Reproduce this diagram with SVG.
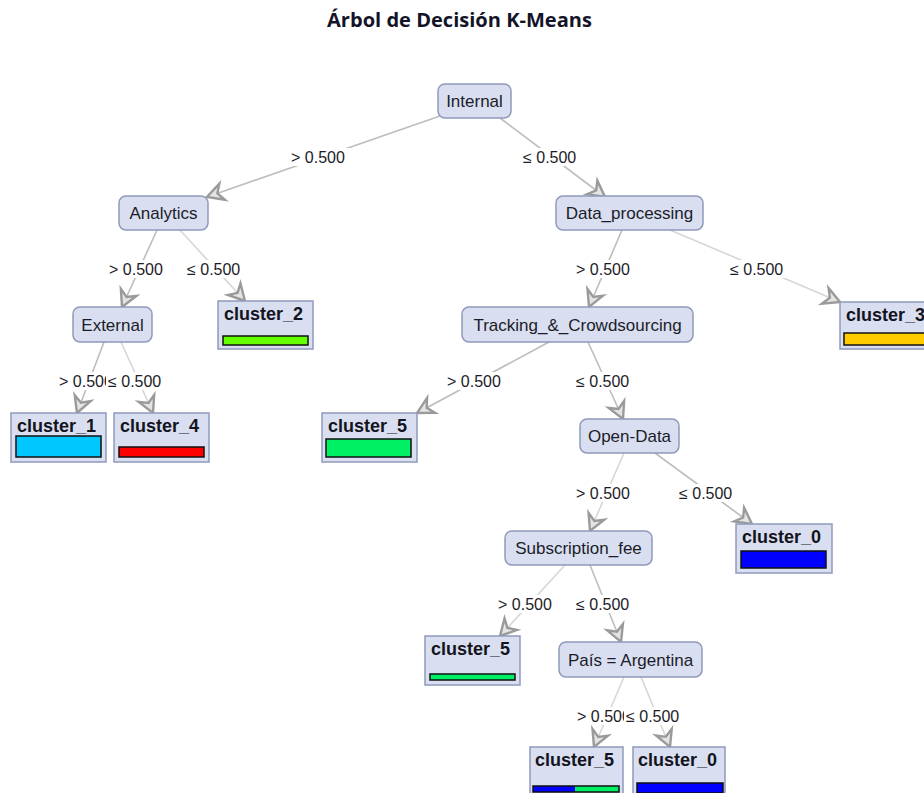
<svg xmlns="http://www.w3.org/2000/svg" width="924" height="793" viewBox="0 0 924 793">
<style>
.bg{fill:#ffffff}
.title{font-family:"Open Sans","Liberation Sans",sans-serif;font-weight:700;font-size:19px;fill:#141428}
.inner rect{fill:#d9dff1;stroke:#8f9aba;stroke-width:1.5}
.inner text{font-family:"Liberation Sans",Arial,sans-serif;font-size:17px;fill:#1c1c28;text-anchor:middle}
.leaf rect.box{fill:#d9dff1;stroke:#8f9aba;stroke-width:1.5}
.leaf text{font-family:"Liberation Sans",Arial,sans-serif;font-weight:700;font-size:18px;fill:#141420}
.bar{stroke:#111;stroke-width:1.5}
.edge{stroke:#bdbdbd;stroke-width:1.6;fill:none;marker-end:url(#arr)}
.edge.lt{stroke:#d6d6d6}
.lbg{fill:#ffffff}
.lbl{font-family:"Liberation Sans",Arial,sans-serif;font-size:16px;fill:#1c1c28}
</style>
<defs>
<marker id="arr" markerUnits="userSpaceOnUse" markerWidth="24" markerHeight="24" refX="0" refY="0" viewBox="-18 -12 20 24" orient="auto">
<path d="M-16,-8.5 L0,0 L-16,8.5 L-11,0 Z" fill="#e4e4e4" stroke="#9a9a9a" stroke-width="2.4" stroke-linejoin="miter"/>
</marker>
</defs>
<rect class="bg" x="0" y="0" width="924" height="793"/>
<text class="title" x="459.5" y="27" text-anchor="middle" textLength="265" lengthAdjust="spacingAndGlyphs">Árbol de Decisión K-Means</text>

<g id="connectors">
<line class="edge" x1="440" y1="116" x2="207" y2="197"/>
<line class="edge" x1="500" y1="118" x2="605" y2="197"/>
<line class="edge" x1="157" y1="230" x2="122" y2="307"/>
<line class="edge lt" x1="180" y1="230" x2="245" y2="301"/>
<line class="edge" x1="104" y1="342" x2="77" y2="413"/>
<line class="edge lt" x1="121" y1="342" x2="153" y2="413"/>
<line class="edge" x1="622" y1="230" x2="589" y2="307"/>
<line class="edge lt" x1="670" y1="230" x2="840" y2="302"/>
<line class="edge" x1="549" y1="342" x2="417" y2="413"/>
<line class="edge" x1="588" y1="342" x2="623" y2="419"/>
<line class="edge lt" x1="624" y1="453" x2="590" y2="531"/>
<line class="edge" x1="655" y1="453" x2="752" y2="524"/>
<line class="edge lt" x1="565" y1="565" x2="500" y2="636"/>
<line class="edge" x1="590" y1="565" x2="621" y2="642"/>
<line class="edge lt" x1="624" y1="677" x2="594" y2="747"/>
<line class="edge lt" x1="641" y1="677" x2="670" y2="747"/>

<rect class="lbg" x="289" y="148" width="61" height="18"/>
<text class="lbl" x="291" y="163">&gt; 0.500</text>
<rect class="lbg" x="521" y="148" width="62" height="18"/>
<text class="lbl" x="523" y="163">≤ 0.500</text>

<rect class="lbg" x="107" y="260" width="60" height="18"/>
<text class="lbl" x="109" y="275">&gt; 0.500</text>
<rect class="lbg" x="185" y="260" width="62" height="18"/>
<text class="lbl" x="187" y="275">≤ 0.500</text>

<rect class="lbg" x="57" y="372" width="60" height="18"/>
<text class="lbl" x="59" y="387">&gt; 0.500</text>
<rect class="lbg" x="106" y="372" width="62" height="18"/>
<text class="lbl" x="108" y="387">≤ 0.500</text>

<rect class="lbg" x="574" y="260" width="60" height="18"/>
<text class="lbl" x="576" y="275">&gt; 0.500</text>
<rect class="lbg" x="728" y="260" width="63" height="18"/>
<text class="lbl" x="730" y="275">≤ 0.500</text>

<rect class="lbg" x="445" y="372" width="60" height="18"/>
<text class="lbl" x="447" y="387">&gt; 0.500</text>
<rect class="lbg" x="574" y="372" width="62" height="18"/>
<text class="lbl" x="576" y="387">≤ 0.500</text>

<rect class="lbg" x="574" y="484" width="60" height="18"/>
<text class="lbl" x="576" y="499">&gt; 0.500</text>
<rect class="lbg" x="677" y="484" width="63" height="18"/>
<text class="lbl" x="679" y="499">≤ 0.500</text>

<rect class="lbg" x="496" y="595" width="60" height="18"/>
<text class="lbl" x="498" y="610">&gt; 0.500</text>
<rect class="lbg" x="574" y="595" width="62" height="18"/>
<text class="lbl" x="576" y="610">≤ 0.500</text>

<rect class="lbg" x="575" y="707" width="60" height="18"/>
<text class="lbl" x="577" y="722">&gt; 0.500</text>
<rect class="lbg" x="624" y="707" width="63" height="18"/>
<text class="lbl" x="626" y="722">≤ 0.500</text>
</g>

<g id="node-internal" class="inner"><rect x="438" y="84" width="73" height="34" rx="7"/><text x="474.5" y="107">Internal</text></g>
<g id="node-analytics" class="inner"><rect x="119" y="196" width="89" height="34" rx="7"/><text x="163.5" y="219">Analytics</text></g>
<g id="node-external" class="inner"><rect x="73" y="307" width="79" height="35" rx="7"/><text x="112.5" y="331">External</text></g>
<g id="node-data-processing" class="inner"><rect x="556" y="196" width="147" height="34" rx="7"/><text x="629.5" y="219">Data_processing</text></g>
<g id="node-tracking" class="inner"><rect x="462" y="307" width="231" height="35" rx="7"/><text x="577.5" y="331">Tracking_&amp;_Crowdsourcing</text></g>
<g id="node-open-data" class="inner"><rect x="580" y="419" width="99" height="34" rx="7"/><text x="629.5" y="442">Open-Data</text></g>
<g id="node-subscription" class="inner"><rect x="505" y="531" width="147" height="34" rx="7"/><text x="578.5" y="554">Subscription_fee</text></g>
<g id="node-pais" class="inner"><rect x="559" y="642" width="143" height="35" rx="7"/><text x="630.5" y="666">País = Argentina</text></g>

<g id="leaf-cluster2" class="leaf"><rect class="box" x="218" y="301" width="95" height="48"/><text x="224" y="320">cluster_2</text><rect class="bar" x="223" y="336" width="85" height="9" fill="#66ff00"/></g>
<g id="leaf-cluster1" class="leaf"><rect class="box" x="11" y="413" width="95" height="49"/><text x="17" y="432">cluster_1</text><rect class="bar" x="16" y="436" width="85" height="21" fill="#00c8ff"/></g>
<g id="leaf-cluster4" class="leaf"><rect class="box" x="114" y="413" width="95" height="49"/><text x="120" y="432">cluster_4</text><rect class="bar" x="119" y="447" width="85" height="10" fill="#ff0000"/></g>
<g id="leaf-cluster3" class="leaf"><rect class="box" x="840" y="302" width="95" height="47"/><text x="846" y="321">cluster_3</text><rect class="bar" x="844" y="333" width="85" height="12" fill="#ffcc00"/></g>
<g id="leaf-cluster5a" class="leaf"><rect class="box" x="322" y="413" width="95" height="49"/><text x="328" y="432">cluster_5</text><rect class="bar" x="326" y="439" width="85" height="18" fill="#00f064"/></g>
<g id="leaf-cluster0a" class="leaf"><rect class="box" x="736" y="524" width="96" height="49"/><text x="742" y="543">cluster_0</text><rect class="bar" x="741" y="551" width="85" height="17" fill="#0000ff"/></g>
<g id="leaf-cluster5b" class="leaf"><rect class="box" x="425" y="636" width="95" height="49"/><text x="431" y="655">cluster_5</text><rect class="bar" x="430" y="674" width="85" height="6" fill="#00f064"/></g>
<g id="leaf-cluster5c" class="leaf"><rect class="box" x="530" y="747" width="93" height="50"/><text x="535" y="766">cluster_5</text><rect x="533" y="786" width="42" height="6" fill="#0000ff"/><rect x="575" y="786" width="44" height="6" fill="#00f064"/><rect class="bar" x="533" y="786" width="86" height="6" fill="none"/></g>
<g id="leaf-cluster0b" class="leaf"><rect class="box" x="633" y="747" width="92" height="50"/><text x="638" y="766">cluster_0</text><rect class="bar" x="637" y="783" width="86" height="10" fill="#0000ff"/></g>
</svg>
